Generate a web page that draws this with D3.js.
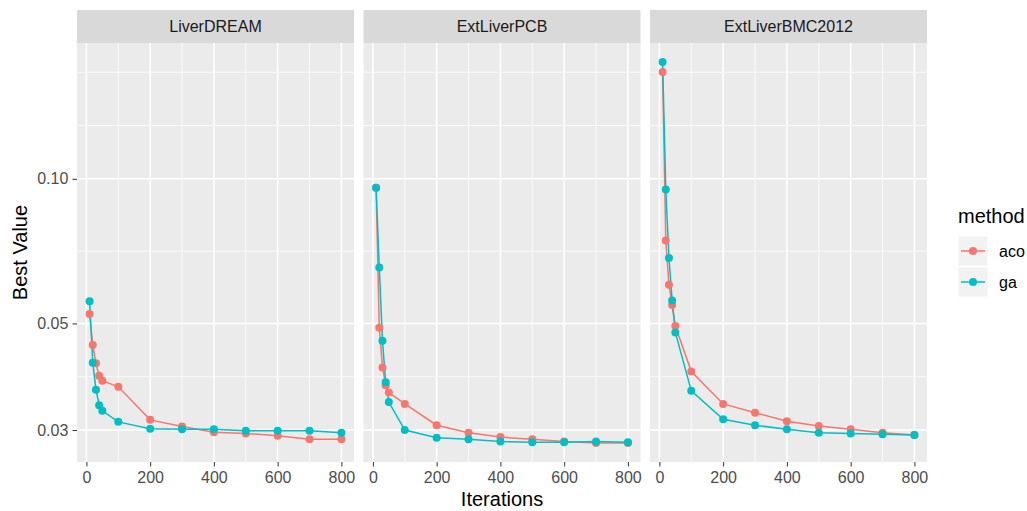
<!doctype html>
<html lang="en">
<head>
<meta charset="utf-8">
<title>Best Value by Iterations</title>
<script src="https://d3js.org/d3.v7.min.js"></script>
<style>
  body { margin: 0; background: #fff; }
  text { font-family: "Liberation Sans", Arial, Helvetica, sans-serif; }
</style>
</head>
<body>
<div id="chart"></div>
<script>
  // data
  const iterations = [10, 20, 30, 40, 50, 100, 200, 300, 400, 500, 600, 700, 800];
  const datasets = ["LiverDREAM", "ExtLiverPCB", "ExtLiverBMC2012"];
  const methods = ["aco", "ga"];

  const liverDreamAco = [0.0523, 0.0451, 0.0413, 0.0389, 0.0380, 0.0369, 0.0315, 0.0305, 0.0297, 0.0295, 0.0292, 0.0287, 0.0287];
  const liverDreamGa  = [0.0556, 0.0414, 0.0364, 0.0338, 0.0329, 0.0312, 0.0302, 0.0301, 0.0301, 0.0299, 0.0299, 0.0299, 0.0296];
  const pcbAco        = [0.0958, 0.0490, 0.0405, 0.0372, 0.0359, 0.0340, 0.0307, 0.0296, 0.0290, 0.0287, 0.0284, 0.0282, 0.0282];
  const pcbGa         = [0.0958, 0.0654, 0.0460, 0.0377, 0.0343, 0.0300, 0.0289, 0.0287, 0.0284, 0.0283, 0.0283, 0.0284, 0.0283];
  const bmcAco        = [0.1668, 0.0744, 0.0602, 0.0546, 0.0494, 0.0397, 0.0340, 0.0326, 0.0313, 0.0306, 0.0301, 0.0296, 0.0293];
  const bmcGa         = [0.1750, 0.0950, 0.0684, 0.0558, 0.0479, 0.0362, 0.0316, 0.0307, 0.0301, 0.0296, 0.0295, 0.0294, 0.0293];

  const yTicks = [0.03, 0.05, 0.10];
  const xTicks = [0, 200, 400, 600, 800];

  const seriesByDataset = {
    LiverDREAM: {aco: liverDreamAco, ga: liverDreamGa},
    ExtLiverPCB: {aco: pcbAco, ga: pcbGa},
    ExtLiverBMC2012: {aco: bmcAco, ga: bmcGa}
  };

  // layout
  const width = 1027, height = 511;
  const plotLeft = 77, plotRight = 927, panelGap = 9.5;
  const panelTop = 43, panelBottom = 462, stripTop = 10;
  const panelWidth = (plotRight - plotLeft - 2 * panelGap) / 3;
  const tickFont = 16, titleFont = 20;
  const colors = d3.scaleOrdinal().domain(methods).range(["#F8766D", "#00BFC4"]);

  // ggplot style 5% expansion (log space for y)
  const allValues = d3.merge(datasets.map(d => methods.map(m => seriesByDataset[d][m])).flat());
  const logMin = Math.log10(d3.min(allValues)), logMax = Math.log10(d3.max(allValues));
  const logPad = (logMax - logMin) * 0.05;
  const y = d3.scaleLog()
    .domain([Math.pow(10, logMin - logPad), Math.pow(10, logMax + logPad)])
    .range([panelBottom, panelTop]);

  const xExtent = d3.extent(iterations);
  const xPad = (xExtent[1] - xExtent[0]) * 0.05;
  const xDomain = [xExtent[0] - xPad, xExtent[1] + xPad];

  // minor breaks: midpoints between majors, extended one step past the ends
  function minorBreaks(b, lim, toT, fromT) {
    const major = b.map(toT);
    let t = major.slice();
    const bd = t[1] - t[0];
    const l = lim.map(toT);
    if (l[0] < t[0]) t = [t[0] - bd].concat(t);
    if (l[1] > t[t.length - 1]) t = t.concat([t[t.length - 1] + bd]);
    const out = [];
    for (let i = 0; i < t.length - 1; i++) out.push((t[i] + t[i + 1]) / 2);
    out.push(t[t.length - 1]);
    return out.filter(v => v >= l[0] && v <= l[1] && !major.includes(v)).map(fromT);
  }
  const yMinor = minorBreaks(yTicks, y.domain(), Math.log10, v => Math.pow(10, v));
  const xMinor = minorBreaks(xTicks, xDomain, v => v, v => v);

  const svg = d3.select('#chart').append('svg')
    .attr('width', width)
    .attr('height', height)
    .style('background', '#fff');

  const line = d3.line();

  datasets.forEach((name, i) => {
    const left = plotLeft + i * (panelWidth + panelGap);
    const x = d3.scaleLinear().domain(xDomain).range([left, left + panelWidth]);

    const g = svg.append('g');
    // panel background
    g.append('rect')
      .attr('x', left).attr('y', panelTop)
      .attr('width', panelWidth).attr('height', panelBottom - panelTop)
      .attr('fill', '#EBEBEB');

    // strip
    g.append('rect')
      .attr('x', left).attr('y', stripTop)
      .attr('width', panelWidth).attr('height', panelTop - stripTop)
      .attr('fill', '#D9D9D9');
    g.append('text')
      .attr('x', left + panelWidth / 2).attr('y', (stripTop + panelTop) / 2)
      .attr('text-anchor', 'middle').attr('dominant-baseline', 'central')
      .attr('font-size', tickFont).attr('fill', '#1A1A1A')
      .text(name);

    // grid
    g.selectAll('.ymin').data(yMinor).enter().append('line')
      .attr('x1', left).attr('x2', left + panelWidth)
      .attr('y1', d => y(d)).attr('y2', d => y(d))
      .attr('stroke', '#fff').attr('stroke-width', 0.75);
    g.selectAll('.xmin').data(xMinor).enter().append('line')
      .attr('y1', panelTop).attr('y2', panelBottom)
      .attr('x1', d => x(d)).attr('x2', d => x(d))
      .attr('stroke', '#fff').attr('stroke-width', 0.75);
    g.selectAll('.ymaj').data(yTicks).enter().append('line')
      .attr('x1', left).attr('x2', left + panelWidth)
      .attr('y1', d => y(d)).attr('y2', d => y(d))
      .attr('stroke', '#fff').attr('stroke-width', 1.5);
    g.selectAll('.xmaj').data(xTicks).enter().append('line')
      .attr('y1', panelTop).attr('y2', panelBottom)
      .attr('x1', d => x(d)).attr('x2', d => x(d))
      .attr('stroke', '#fff').attr('stroke-width', 1.5);

    // x axis
    const xAxis = g.append('g')
      .attr('transform', 'translate(0,' + panelBottom + ')')
      .call(d3.axisBottom(x).tickValues(xTicks).tickSize(4.5).tickPadding(5.5).tickFormat(d3.format('d')));
    xAxis.select('.domain').remove();
    xAxis.selectAll('.tick line').attr('stroke', '#333');
    xAxis.selectAll('.tick text').attr('fill', '#4D4D4D').attr('font-size', tickFont)
      .style('font-family', '"Liberation Sans", Arial, sans-serif');

    if (i === 0) {
      const yAxis = g.append('g')
        .attr('transform', 'translate(' + left + ',0)')
        .call(d3.axisLeft(y).tickValues(yTicks).tickSize(4.5).tickPadding(4.2).tickFormat(d3.format('.2f')));
      yAxis.select('.domain').remove();
      yAxis.selectAll('.tick line').attr('stroke', '#333');
      yAxis.selectAll('.tick text').attr('fill', '#4D4D4D').attr('font-size', tickFont)
        .style('font-family', '"Liberation Sans", Arial, sans-serif');
    }

    // lines then points
    methods.forEach(m => {
      const vals = seriesByDataset[name][m];
      g.append('path')
        .datum(iterations.map((it, k) => [x(it), y(vals[k])]))
        .attr('fill', 'none')
        .attr('stroke', colors(m))
        .attr('stroke-width', 1.5)
        .attr('d', line);
    });
    methods.forEach(m => {
      const vals = seriesByDataset[name][m];
      g.selectAll('.pt-' + m).data(iterations).enter().append('circle')
        .attr('cx', d => x(d))
        .attr('cy', (d, k) => y(vals[k]))
        .attr('r', 4)
        .attr('fill', colors(m));
    });
  });

  // axis titles
  svg.append('text')
    .attr('x', (plotLeft + plotRight) / 2).attr('y', 505.5)
    .attr('text-anchor', 'middle').attr('font-size', titleFont).attr('fill', '#000')
    .text('Iterations');
  svg.append('text')
    .attr('transform', 'translate(27.3,' + (panelTop + panelBottom) / 2 + ') rotate(-90)')
    .attr('text-anchor', 'middle').attr('font-size', titleFont).attr('fill', '#000')
    .text('Best Value');

  // legend
  const legend = svg.append('g').attr('transform', 'translate(958,0)');
  legend.append('text')
    .attr('x', 0).attr('y', 223)
    .attr('font-size', titleFont).attr('fill', '#000')
    .text('method');
  methods.forEach((m, k) => {
    const top = 236 + k * 31;
    legend.append('rect')
      .attr('x', 0).attr('y', top).attr('width', 30).attr('height', 30)
      .attr('fill', '#F2F2F2').attr('stroke', '#fff').attr('stroke-width', 1);
    legend.append('line')
      .attr('x1', 3).attr('x2', 27).attr('y1', top + 15).attr('y2', top + 15)
      .attr('stroke', colors(m)).attr('stroke-width', 1.5);
    legend.append('circle')
      .attr('cx', 15).attr('cy', top + 15).attr('r', 4).attr('fill', colors(m));
    legend.append('text')
      .attr('x', 41).attr('y', top + 15)
      .attr('dominant-baseline', 'central')
      .attr('font-size', tickFont).attr('fill', '#000')
      .text(m);
  });
</script>
</body>
</html>
